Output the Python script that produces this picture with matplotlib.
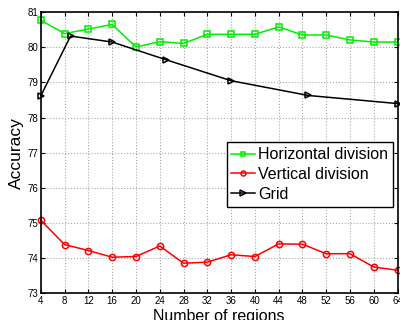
import matplotlib
matplotlib.use('Agg')
import matplotlib.pyplot as plt

# donnees
regions = [4, 8, 12, 16, 20, 24, 28, 32, 36, 40, 44, 48, 52, 56, 60, 64]
horizontal = [80.77, 80.39, 80.52, 80.65, 80.01, 80.16, 80.11, 80.37,
              80.37, 80.37, 80.58, 80.35, 80.35, 80.21, 80.15, 80.15]
vertical = [75.08, 74.39, 74.22, 74.03, 74.05, 74.35, 73.86, 73.89,
            74.10, 74.05, 74.41, 74.40, 74.13, 74.13, 73.75, 73.66]
grid_regions = [4, 9, 16, 25, 36, 49, 64]
grid_acc = [78.62, 80.32, 80.15, 79.65, 79.05, 78.63, 78.40]

plt.rcParams['font.family'] = ['Liberation Sans', 'DejaVu Sans']

fig = plt.figure(figsize=(4, 3.2), dpi=100)
ax = fig.add_axes([0.102, 0.083, 0.892, 0.879])

ax.plot(regions, horizontal, color='#00ee00', lw=1.1, marker='s', ms=4,
        mfc='none', mec='#00ee00', mew=1.1, label='Horizontal division', clip_on=False)
ax.plot(regions, vertical, color='#ff0000', lw=1.1, marker='o', ms=4.5,
        mfc='none', mec='#ff0000', mew=1.1, label='Vertical division', clip_on=False)
ax.plot(grid_regions, grid_acc, color='black', lw=1.1, marker='>', ms=5,
        mfc='none', mec='black', mew=1.1, label='Grid', clip_on=False)

ax.set_xlim(4, 64)
ax.set_ylim(73, 81)
ax.set_xticks(regions)
ax.set_yticks(range(73, 82))
ax.tick_params(direction='in', labelsize=7, length=3, top=True, right=True, pad=2)
ax.grid(True, linestyle=':', color='#aaaaaa', lw=0.8)
for s in ax.spines.values():
    s.set_linewidth(1.2)

ax.set_xlabel('Number of regions', fontsize=11.5, labelpad=2)
ax.set_ylabel('Accuracy', fontsize=12.5, labelpad=2)

leg = ax.legend(loc='upper left', bbox_to_anchor=(0.521, 0.537), borderaxespad=0,
                fontsize=11.5, handlelength=1.45, handletextpad=0.2, borderpad=0.3,
                labelspacing=0.3, fancybox=False, framealpha=1, markerscale=0.8)
leg.get_frame().set_edgecolor('black')
leg.get_frame().set_linewidth(1.0)

plt.savefig('out.png', dpi=100)
